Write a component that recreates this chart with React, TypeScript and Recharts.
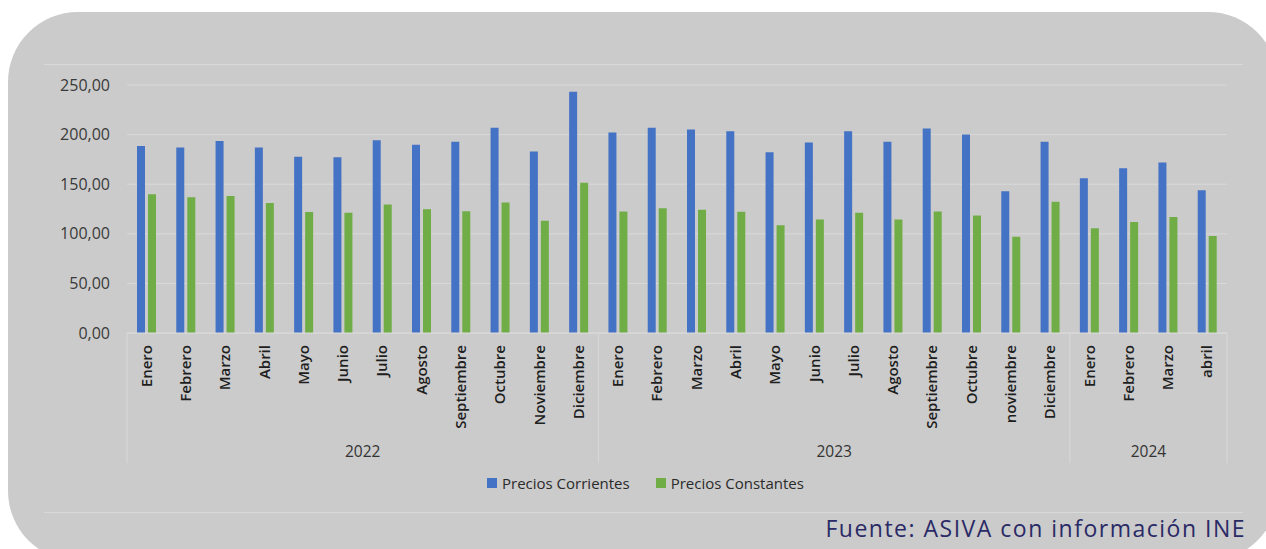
import { BarChart, Bar, XAxis, YAxis, CartesianGrid, Legend } from 'recharts';

// Ventas mensuales, precios corrientes vs constantes (2022 - abril 2024)
const months = [
  'Enero', 'Febrero', 'Marzo', 'Abril', 'Mayo', 'Junio', 'Julio', 'Agosto', 'Septiembre', 'Octubre', 'Noviembre', 'Diciembre',
  'Enero', 'Febrero', 'Marzo', 'Abril', 'Mayo', 'Junio', 'Julio', 'Agosto', 'Septiembre', 'Octubre', 'noviembre', 'Diciembre',
  'Enero', 'Febrero', 'Marzo', 'abril',
];
const years = [
  '2022', '2022', '2022', '2022', '2022', '2022', '2022', '2022', '2022', '2022', '2022', '2022',
  '2023', '2023', '2023', '2023', '2023', '2023', '2023', '2023', '2023', '2023', '2023', '2023',
  '2024', '2024', '2024', '2024',
];
const corrientes = [
  188.5, 187, 193.5, 187, 177.7, 177.2, 194.4, 189.7, 192.7, 206.8, 183, 243.1,
  202.1, 206.8, 205.1, 203.4, 182.3, 192, 203.4, 192.7, 206.2, 200.1, 143, 192.7,
  156, 166, 172, 144,
];
const constantes = [
  139.8, 136.8, 138, 131, 122, 121.2, 129.5, 124.8, 122.8, 131.5, 113.1, 151.4,
  122.5, 125.8, 124.2, 122.2, 108.7, 114.4, 121.2, 114.4, 122.5, 118.4, 97, 132.3,
  105.7, 112, 117, 97.8,
];
const yTicks = [0, 50, 100, 150, 200, 250];

const series = [
  { key: 'corrientes', name: 'Precios Corrientes', color: '#4472C4' },
  { key: 'constantes', name: 'Precios Constantes', color: '#70AD47' },
];

const data = months.map((month, i) => ({
  idx: i,
  month,
  year: years[i],
  corrientes: corrientes[i],
  constantes: constantes[i],
}));

const WIDTH = 1266;
const HEIGHT = 549;
const MARGIN = { top: 85, right: 39, bottom: 86, left: 47 };
const Y_AXIS_W = 80;
const X_AXIS_H = 130;
const BAND = (WIDTH - MARGIN.left - Y_AXIS_W - MARGIN.right) / months.length;
const LINE = '#d9d9d9';

const formatTick = (v: number) => v.toFixed(2).replace('.', ',');

function MonthTick(props: any) {
  const { x, y, payload } = props;
  const i = payload.index;
  const first = i === 0 || years[i - 1] !== years[i];
  const last = i === months.length - 1;
  let groupLen = 0;
  if (first) {
    while (i + groupLen < years.length && years[i + groupLen] === years[i]) groupLen++;
  }
  const left = x - BAND / 2;
  return (
    <g>
      <text
        x={x + 5}
        y={y + 12}
        transform={`rotate(-90, ${x + 5}, ${y + 12})`}
        textAnchor="end"
        fontSize={15}
        fontWeight={600}
        fill="#1e1e1e"
      >
        {months[i]}
      </text>
      {first && <line x1={left} x2={left} y1={y} y2={y + X_AXIS_H} stroke={LINE} />}
      {last && <line x1={x + BAND / 2} x2={x + BAND / 2} y1={y} y2={y + X_AXIS_H} stroke={LINE} />}
      {first && (
        <text x={left + (groupLen * BAND) / 2} y={y + 124} textAnchor="middle" fontSize={15.5} fill="#333">
          {years[i]}
        </text>
      )}
    </g>
  );
}

function LegendContent() {
  return (
    <div style={{ display: 'flex', alignItems: 'center', fontSize: 15, color: '#2a2a2a', whiteSpace: 'nowrap', lineHeight: '20px' }}>
      {series.map((s) => (
        <span key={s.key} style={{ display: 'flex', alignItems: 'center', marginRight: 26 }}>
          <span style={{ width: 10, height: 10, background: s.color, marginRight: 5, display: 'inline-block' }} />
          {s.name}
        </span>
      ))}
    </div>
  );
}

export default function App() {
  return (
    <div
      style={{
        position: 'absolute',
        left: 0,
        top: 0,
        width: WIDTH,
        height: HEIGHT,
        overflow: 'hidden',
        background: '#fff',
        fontFamily: '"Open Sans", sans-serif',
      }}
    >
      <div
        style={{
          position: 'absolute',
          left: 8,
          top: 12,
          width: 1270,
          height: 549,
          borderRadius: 70,
          background: '#cbcbcb',
        }}
      />
      <div
        style={{
          position: 'absolute',
          left: 44,
          top: 64,
          width: 1199,
          height: 447,
          borderTop: `1px solid ${LINE}`,
          borderBottom: `1px solid ${LINE}`,
        }}
      />
      <div style={{ position: 'absolute', left: 0, top: 0 }}>
        <BarChart width={WIDTH} height={HEIGHT} data={data} margin={MARGIN} barSize={8} barGap={3}>
          <CartesianGrid vertical={false} stroke={LINE} />
          <XAxis
            dataKey="idx"
            type="category"
            interval={0}
            height={X_AXIS_H}
            tickLine={false}
            tickSize={0}
            tickMargin={0}
            axisLine={{ stroke: LINE }}
            tick={(p: any) => <MonthTick {...p} />}
          />
          <YAxis
            width={Y_AXIS_W}
            domain={[0, 250]}
            ticks={yTicks}
            tickFormatter={formatTick}
            tickLine={false}
            axisLine={false}
            tickSize={0}
            tickMargin={17}
            tick={{ fontSize: 16, fill: '#3a3a3a' }}
          />
          <Legend
            layout="vertical"
            align="center"
            verticalAlign="middle"
            content={() => <LegendContent />}
            wrapperStyle={{ top: 473, left: 487, width: 'auto', height: 20 }}
          />
          {series.map((s) => (
            <Bar key={s.key} dataKey={s.key} name={s.name} fill={s.color} isAnimationActive={false} />
          ))}
        </BarChart>
      </div>
      <div
        style={{
          position: 'absolute',
          right: 20,
          top: 517,
          fontSize: 23,
          lineHeight: 1,
          letterSpacing: 1.5,
          color: '#2a2a66',
          whiteSpace: 'nowrap',
        }}
      >
        Fuente: ASIVA con información INE
      </div>
    </div>
  );
}
